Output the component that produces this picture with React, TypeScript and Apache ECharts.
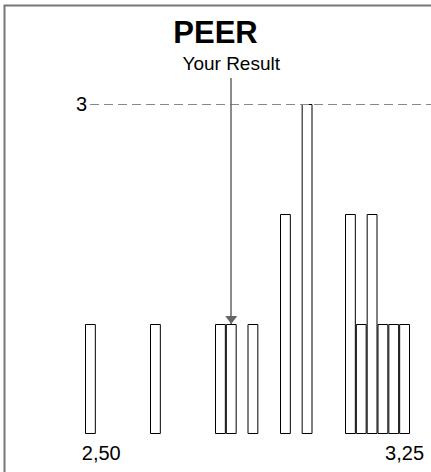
import React, { useEffect, useRef } from "react";
import * as echarts from "echarts";

// ---- data ----
const title = "PEER";
const resultLabel = "Your Result";
// number of results per bin (30 bins)
const counts = [1, 0, 0, 0, 0, 0, 1, 0, 0, 0, 0, 0, 1, 1, 0, 1, 0, 0, 2, 0, 3, 0, 0, 0, 2, 1, 2, 1, 1, 1];
const bins = counts.map((_, i) => `bin${i + 1}`);
// tick labels on the x axis and the bins they sit under
const xTickBins = [1, 29];
const xTickLabels = ["2,50", "3,25"];
// y reference line
const yTicks = [3];
const yTickLabels = ["3"];
const yMax = 3;
// bin holding "your result"
const resultBin = 13;

const SANS = "'Liberation Sans', Arial, Helvetica, sans-serif";
const NARROW = "'Liberation Sans Narrow', 'Arial Narrow', 'Liberation Sans', sans-serif";

export default function App() {
  const ref = useRef<HTMLDivElement>(null);
  useEffect(() => {
    const chart = echarts.init(ref.current!, null, { renderer: "svg" });
    chart.setOption({
      animation: false,
      backgroundColor: "#ffffff",
      title: {
        text: title,
        left: "center",
        top: 17,
        padding: 0,
        textStyle: { fontFamily: SANS, fontSize: 31, fontWeight: "bold", color: "#000" },
      },
      grid: { left: 85, right: 21, top: 104, bottom: 38 },
      xAxis: {
        type: "category",
        data: bins,
        axisLine: { show: false },
        axisTick: { show: false },
        splitLine: { show: false },
        axisLabel: {
          interval: 0,
          margin: 9,
          fontSize: 20,
          color: "#000",
          fontFamily: SANS,
          formatter: (_v: string, i: number) => {
            const k = xTickBins.indexOf(i);
            return k >= 0 ? xTickLabels[k] : "";
          },
        },
      },
      yAxis: { type: "value", min: 0, max: yMax, show: false },
      series: [
        {
          type: "bar",
          data: counts.map((c) => (c > 0 ? c : null)),
          barWidth: "100%",
          barCategoryGap: "0%",
          itemStyle: { color: "#ffffff", borderColor: "#000", borderWidth: 1 },
          markLine: {
            silent: true,
            symbol: "none",
            animation: false,
            data: [
              ...yTicks.map((t, k) => [
                {
                  yAxis: t,
                  x: 90,
                  symbol: "none",
                  lineStyle: { color: "#888", width: 1, type: [9, 5] },
                  label: {
                    show: true,
                    position: "start",
                    distance: 3,
                    formatter: yTickLabels[k],
                    color: "#000",
                    fontSize: 20,
                    fontFamily: SANS,
                  },
                },
                { yAxis: t, x: 431, symbol: "none" },
              ]),
              [
                {
                  coord: [bins[resultBin], yMax],
                  y: 78,
                  symbol: "none",
                  lineStyle: { color: "#666", width: 1.5, type: "solid" },
                  label: {
                    show: true,
                    position: "start",
                    distance: 5,
                    formatter: resultLabel,
                    color: "#000",
                    fontSize: 19,
                    fontFamily: NARROW,
                  },
                },
                {
                  coord: [bins[resultBin], counts[resultBin]],
                  symbol: "triangle",
                  symbolSize: [12, 8],
                  symbolOffset: [0, 4],
                  itemStyle: { color: "#000" },
                },
              ],
            ],
          },
        },
      ],
      graphic: [
        {
          type: "rect",
          silent: true,
          shape: { x: 4.5, y: 5.5, width: 700, height: 700 },
          style: { fill: "none", stroke: "#777", lineWidth: 2 },
        },
      ],
    });
    return () => chart.dispose();
  }, []);
  return <div ref={ref} style={{ position: "fixed", left: 0, top: 0, width: 431, height: 472 }} />;
}
